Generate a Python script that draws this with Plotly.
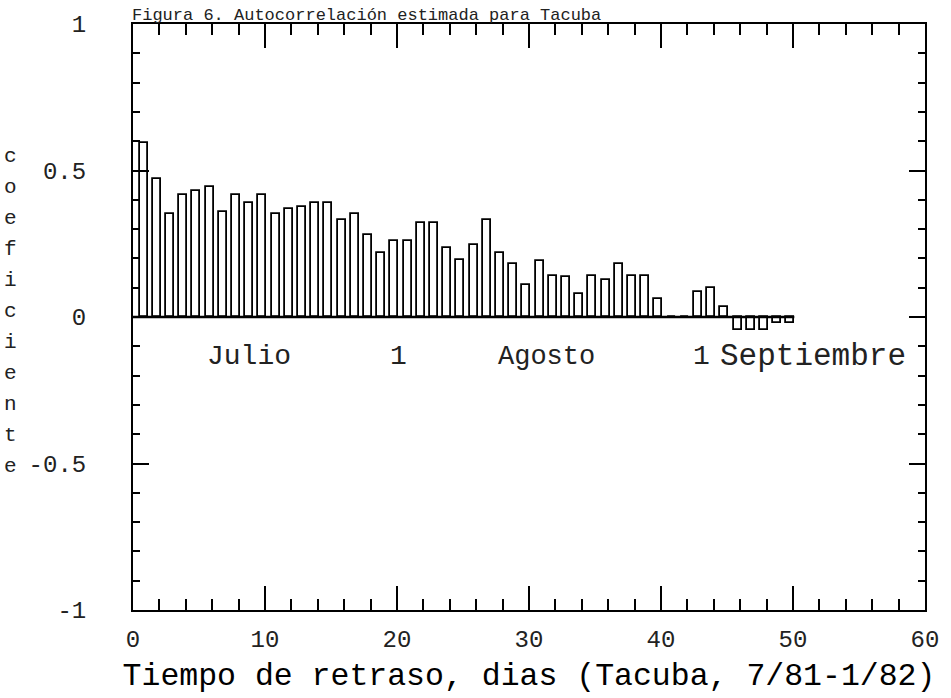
import plotly.graph_objects as go

lags = list(range(50))
acf = [0.595, 0.47, 0.35, 0.415, 0.43, 0.445, 0.36, 0.415, 0.39, 0.415,
       0.35, 0.37, 0.375, 0.39, 0.39, 0.33, 0.35, 0.28, 0.22, 0.26,
       0.26, 0.32, 0.32, 0.235, 0.195, 0.245, 0.33, 0.22, 0.18, 0.11,
       0.19, 0.14, 0.135, 0.08, 0.14, 0.125, 0.18, 0.14, 0.14, 0.06,
       0.0, 0.0, 0.085, 0.10, 0.035, -0.045, -0.045, -0.045, -0.02, -0.02]

xtick_vals = [0, 10, 20, 30, 40, 50, 60]
xtick_text = ["0", "10", "20", "30", "40", "50", "60"]
ytick_vals = [-1, -0.5, 0, 0.5, 1]
ytick_text = ["-1", "-0.5", "0", "0.5", "1"]

month_labels = ["Julio", "1", "Agosto", "1", "Septiembre"]
month_x = [8.8, 20.1, 31.3, 43.1, 44.35]
month_anchor = ["center", "center", "center", "center", "left"]
month_size = [28, 28, 27, 28, 31]

title_text = "Figura 6. Autocorrelación estimada para Tacuba"
x_title = "Tiempo de retraso, dias (Tacuba, 7/81-1/82)"
y_title = "coeficiente"

FONT = "Liberation Mono, DejaVu Sans Mono, monospace"

fig = go.Figure()
fig.add_trace(go.Bar(
    x=lags, y=acf, offset=0.5, width=0.6,
    marker=dict(color="white", line=dict(color="black", width=1.8)),
    showlegend=False, hoverinfo="x+y",
))
# baseline along zero across the bars
fig.add_trace(go.Scatter(
    x=[0, lags[-1] + 1.1], y=[0, 0], mode="lines",
    line=dict(color="black", width=2.5), showlegend=False, hoverinfo="skip",
))

fig.update_layout(
    width=951, height=698,
    margin=dict(l=133, r=21, t=18, b=88),
    paper_bgcolor="white", plot_bgcolor="white",
    font=dict(family=FONT, color="black"),
    bargap=0,
)
fig.update_xaxes(
    range=[0, 60], tickvals=xtick_vals, ticktext=xtick_text,
    ticks="inside", ticklen=24, tickwidth=1.5, tickcolor="black",
    minor=dict(dtick=2, ticks="inside", ticklen=11, tickwidth=1.5, tickcolor="black"),
    showline=True, linecolor="black", linewidth=2, mirror="ticks",
    showgrid=False, zeroline=False,
    tickfont=dict(size=24, family=FONT, color="#222"),
    ticklabelstandoff=6,
    title=dict(text=x_title, font=dict(size=31.5, family=FONT, color="black"), standoff=10),
)
fig.update_yaxes(
    range=[-1, 1], tickvals=ytick_vals, ticktext=ytick_text,
    ticks="inside", ticklen=16, tickwidth=1.5, tickcolor="black",
    minor=dict(dtick=0.1, ticks="inside", ticklen=7, tickwidth=1.5, tickcolor="black"),
    showline=True, linecolor="black", linewidth=2, mirror="ticks",
    showgrid=False, zeroline=False,
    tickfont=dict(size=24, family=FONT, color="#222"),
    ticklabelstandoff=40,
)

for txt, xv, anc, sz in zip(month_labels, month_x, month_anchor, month_size):
    fig.add_annotation(x=xv, y=-0.135, xref="x", yref="y", text=txt,
                       showarrow=False, xanchor=anc, yanchor="middle",
                       font=dict(size=sz, family=FONT, color="#222"))

fig.add_annotation(x=(130 - 133) / 797, y=1 + (18 - 9) / 592,
                   xref="paper", yref="paper", text=title_text, showarrow=False,
                   xanchor="left", yanchor="middle",
                   font=dict(size=17, family=FONT, color="#222"))

n = len(y_title)
for i, ch in enumerate(y_title):
    ypix = 152 + i * (465 - 152) / (n - 1)
    fig.add_annotation(x=(10 - 133) / 797, y=1 - (ypix - 18) / 592,
                       xref="paper", yref="paper", text=ch, showarrow=False,
                       xanchor="center", yanchor="middle",
                       font=dict(size=21, family=FONT, color="#222"))

fig.write_html("out.html")
